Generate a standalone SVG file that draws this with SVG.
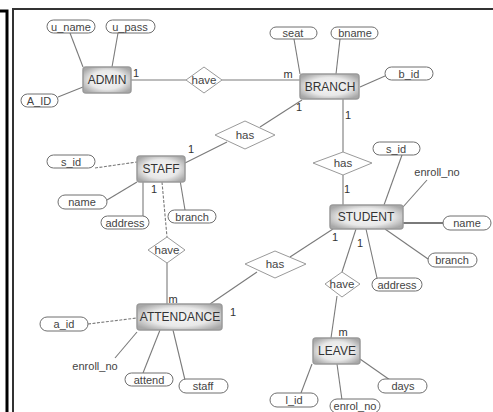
<svg xmlns="http://www.w3.org/2000/svg" width="493" height="412" viewBox="0 0 493 412">
<defs>
<radialGradient id="eg" cx="0.5" cy="0.5" r="0.6">
<stop offset="0" stop-color="#f6f6f6"/>
<stop offset="0.6" stop-color="#e8e8e8"/>
<stop offset="1" stop-color="#a8a8a8"/>
</radialGradient>
</defs>
<style>
.ent rect{fill:url(#eg);stroke:#9a9a9a;stroke-width:1.5}
.ent text{font-family:"Liberation Sans",Arial,sans-serif;font-size:12px;fill:#333;text-anchor:middle;dominant-baseline:central}
.att rect{fill:#fff;stroke:#6f6f6f;stroke-width:1}
.att text{font-family:"Liberation Sans",Arial,sans-serif;font-size:11px;fill:#444;text-anchor:middle;dominant-baseline:central}
.rel polygon{fill:#fff;stroke:#9a9a9a;stroke-width:1}
.rel text{font-family:"Liberation Sans",Arial,sans-serif;font-size:11.5px;fill:#444;text-anchor:middle;dominant-baseline:central}
.conn line{stroke:#7a7a7a;stroke-width:1.1}
.conn .d{stroke-dasharray:3 1.5}
.card{font-family:"Liberation Sans",Arial,sans-serif;font-size:11px;fill:#333;text-anchor:middle;dominant-baseline:central}
</style>
<rect width="493" height="412" fill="#fff"/>
<g id="frame">
<path d="M0 11 H7 V412" fill="none" stroke="#000" stroke-width="3"/>
<path d="M13 412 V9 H493" fill="none" stroke="#333" stroke-width="2"/>
</g>
<g id="connectors" class="conn">
<line x1="83" y1="67" x2="70" y2="33"/>
<line x1="112" y1="67" x2="118" y2="33"/>
<line x1="83" y1="87" x2="58" y2="97"/>
<line x1="131" y1="80" x2="186" y2="80"/>
<line x1="222" y1="80" x2="300" y2="80"/>
<line x1="294" y1="39" x2="300" y2="74"/>
<line x1="340" y1="39" x2="336" y2="74"/>
<line x1="360" y1="87" x2="385" y2="76"/>
<line x1="302" y1="100" x2="260" y2="127"/>
<line x1="227" y1="142" x2="185" y2="163"/>
<line x1="343" y1="99" x2="343" y2="152"/>
<line x1="343" y1="175" x2="343" y2="205"/>
<line class="d" x1="95" y1="168" x2="137" y2="162"/>
<line x1="107" y1="200" x2="137" y2="182"/>
<line x1="143" y1="182" x2="143" y2="220"/>
<line x1="180" y1="180" x2="185" y2="210"/>
<line class="d" x1="162" y1="182" x2="167" y2="237"/>
<line x1="167" y1="263" x2="167" y2="304"/>
<line class="d" x1="88" y1="324" x2="137" y2="318"/>
<line x1="115" y1="358" x2="137" y2="332"/>
<line x1="143" y1="373" x2="160" y2="330"/>
<line x1="185" y1="380" x2="173" y2="330"/>
<line x1="210" y1="304" x2="257" y2="272"/>
<line x1="290" y1="257" x2="333" y2="229"/>
<line x1="402" y1="155" x2="384" y2="205"/>
<line x1="427" y1="180" x2="403" y2="207"/>
<line x1="403" y1="223" x2="443" y2="223" style="stroke-width:1.8"/>
<line x1="385" y1="229" x2="428" y2="259"/>
<line x1="366" y1="229" x2="377" y2="278"/>
<line x1="356" y1="229" x2="342" y2="272"/>
<line x1="337" y1="296" x2="331" y2="338"/>
<line x1="312" y1="364" x2="301" y2="393"/>
<line x1="337" y1="364" x2="342" y2="400"/>
<line x1="360" y1="359" x2="390" y2="380"/>
</g>
<g id="cards">
<text class="card" x="136" y="73">1</text>
<text class="card" x="288" y="74">m</text>
<text class="card" x="299" y="107">1</text>
<text class="card" x="348" y="115">1</text>
<text class="card" x="191" y="149">1</text>
<text class="card" x="154" y="189">1</text>
<text class="card" x="347" y="189">1</text>
<text class="card" x="173" y="299">m</text>
<text class="card" x="233" y="312">1</text>
<text class="card" x="335" y="237">1</text>
<text class="card" x="360" y="243">1</text>
<text class="card" x="343" y="332">m</text>
</g>
<g id="rel-admin-branch" class="rel"><polygon points="186,80 204,67 222,80 204,93"/><text x="204" y="80">have</text></g>
<g id="rel-staff-branch" class="rel"><polygon points="215,135 245,121 275,135 245,149"/><text x="245" y="135">has</text></g>
<g id="rel-branch-student" class="rel"><polygon points="313,163 343,152 372,163 343,175"/><text x="343" y="163">has</text></g>
<g id="rel-staff-att" class="rel"><polygon points="148,250 167,237 185,250 167,263"/><text x="167" y="250">have</text></g>
<g id="rel-student-att" class="rel"><polygon points="245,264 275,251 306,264 275,278"/><text x="275" y="264">has</text></g>
<g id="rel-student-leave" class="rel"><polygon points="325,284 342,272 360,284 342,297"/><text x="342" y="284">have</text></g>
<g id="admin" class="ent"><rect x="83" y="67" width="48" height="26" rx="3"/><text x="107" y="80">ADMIN</text></g>
<g id="branch" class="ent"><rect x="300" y="74" width="59" height="25" rx="3"/><text x="330" y="87">BRANCH</text></g>
<g id="staff" class="ent"><rect x="137" y="156" width="48" height="26" rx="3"/><text x="161" y="169">STAFF</text></g>
<g id="student" class="ent"><rect x="330" y="205" width="73" height="24" rx="3"/><text x="366" y="217">STUDENT</text></g>
<g id="attendance" class="ent"><rect x="137" y="304" width="85" height="26" rx="3"/><text x="180" y="317">ATTENDANCE</text></g>
<g id="leave" class="ent"><rect x="313" y="338" width="47" height="26" rx="3"/><text x="337" y="351">LEAVE</text></g>
<g id="a-u_name" class="att"><rect x="47" y="20" width="48" height="13" rx="6.5"/><text x="71" y="26.5">u_name</text></g>
<g id="a-u_pass" class="att"><rect x="106" y="20" width="49" height="13" rx="6.5"/><text x="130" y="26.5">u_pass</text></g>
<g id="a-A_ID" class="att"><rect x="21" y="94" width="37" height="13" rx="6.5"/><text x="39" y="100.5">A_ID</text></g>
<g id="a-seat" class="att"><rect x="270" y="27" width="47" height="12" rx="6"/><text x="293" y="33">seat</text></g>
<g id="a-bname" class="att"><rect x="331" y="27" width="47" height="12" rx="6"/><text x="355" y="33">bname</text></g>
<g id="a-b_id" class="att"><rect x="385" y="67" width="48" height="13" rx="6.5"/><text x="409" y="73.5">b_id</text></g>
<g id="a-staff-s_id" class="att"><rect x="47" y="155" width="48" height="13" rx="6.5"/><text x="71" y="161.5">s_id</text></g>
<g id="a-staff-name" class="att"><rect x="58" y="195" width="49" height="14" rx="7"/><text x="82" y="202">name</text></g>
<g id="a-staff-address" class="att"><rect x="101" y="216" width="48" height="13" rx="6.5"/><text x="125" y="222.5">address</text></g>
<g id="a-staff-branch" class="att"><rect x="168" y="210" width="48" height="13" rx="6.5"/><text x="192" y="216.5">branch</text></g>
<g id="a-stu-s_id" class="att"><rect x="373" y="142" width="47" height="13" rx="6.5"/><text x="396" y="148.5">s_id</text></g>
<g id="a-stu-enroll_no" class="att"><rect x="413" y="166" width="48" height="13" rx="6.5" style="stroke:none"/><text x="437" y="172">enroll_no</text></g>
<g id="a-stu-name" class="att"><rect x="443" y="216" width="48" height="14" rx="7"/><text x="467" y="223">name</text></g>
<g id="a-stu-branch" class="att"><rect x="428" y="253" width="49" height="14" rx="7"/><text x="452" y="260">branch</text></g>
<g id="a-stu-address" class="att"><rect x="372" y="278" width="50" height="13" rx="6.5"/><text x="397" y="284.5">address</text></g>
<g id="a-a_id" class="att"><rect x="40" y="317" width="48" height="14" rx="7"/><text x="64" y="324">a_id</text></g>
<g id="a-att-enroll_no" class="att"><rect x="72" y="360" width="46" height="13" rx="6.5" style="stroke:none"/><text x="95" y="366">enroll_no</text></g>
<g id="a-attend" class="att"><rect x="125" y="373" width="48" height="13" rx="6.5"/><text x="149" y="379.5">attend</text></g>
<g id="a-staff" class="att"><rect x="179" y="379" width="49" height="14" rx="7"/><text x="203" y="386">staff</text></g>
<g id="a-l_id" class="att"><rect x="270" y="393" width="48" height="14" rx="7"/><text x="294" y="400">l_id</text></g>
<g id="a-enrol_no" class="att"><rect x="330" y="399" width="50" height="14" rx="7"/><text x="355" y="406">enrol_no</text></g>
<g id="a-days" class="att"><rect x="378" y="379" width="49" height="14" rx="7"/><text x="403" y="386">days</text></g>
</svg>
